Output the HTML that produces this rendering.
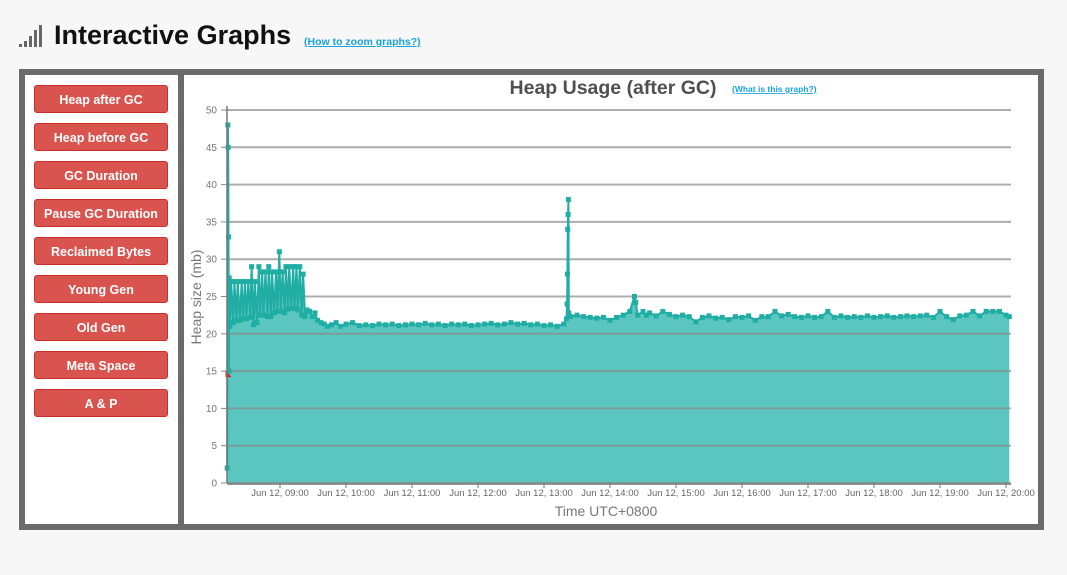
<!DOCTYPE html>
<html><head><meta charset="utf-8">
<style>
body{margin:0;width:1067px;height:575px;background:#f7f7f7;font-family:"Liberation Sans",sans-serif;position:relative;overflow:hidden}
#title{position:absolute;left:54px;top:20px;font-size:27px;font-weight:bold;color:#111;white-space:nowrap}
#zoomlink{position:absolute;left:304px;top:36px;font-size:10.5px;font-weight:bold;color:#1aa3d9;text-decoration:underline}
#frame{position:absolute;left:19px;top:69px;width:1025px;height:461px;background:#6b6b6b}
#left{position:absolute;left:25px;top:75px;width:153px;height:449px;background:#fff}
#chartp{position:absolute;left:184px;top:75px;width:854px;height:449px;background:#fff}
.btn{position:absolute;left:34px;width:134px;height:28px;background:#d9534f;border-radius:3px;color:#fff;font-weight:bold;font-size:12.5px;text-align:center;line-height:28px;border:1px solid #c9302c;box-sizing:border-box}
</style></head><body>
<svg width="28" height="30" style="position:absolute;left:19px;top:22px">
<rect x="0" y="22" width="3" height="3" fill="#666"/><rect x="5" y="19" width="3" height="6" fill="#666"/><rect x="10" y="14" width="3" height="11" fill="#666"/><rect x="15" y="8" width="3" height="17" fill="#666"/><rect x="20" y="3" width="3" height="22" fill="#666"/></svg>
<div id="title">Interactive Graphs</div>
<a id="zoomlink">(How to zoom graphs?)</a>
<div id="frame"></div>
<div id="left"></div>
<div class="btn" style="top:85px">Heap after GC</div>
<div class="btn" style="top:123px">Heap before GC</div>
<div class="btn" style="top:161px">GC Duration</div>
<div class="btn" style="top:199px">Pause GC Duration</div>
<div class="btn" style="top:237px">Reclaimed Bytes</div>
<div class="btn" style="top:275px">Young Gen</div>
<div class="btn" style="top:313px">Old Gen</div>
<div class="btn" style="top:351px">Meta Space</div>
<div class="btn" style="top:389px">A &amp; P</div>
<div id="chartp"></div>
<svg id="chart" width="1067" height="575" style="position:absolute;left:0;top:0"></svg>
<script>
const yTicks=[0,5,10,15,20,25,30,35,40,45,50];
const xTickHours=[9,10,11,12,13,14,15,16,17,18,19,20];
const xTickLabels=["Jun 12, 09:00","Jun 12, 10:00","Jun 12, 11:00","Jun 12, 12:00","Jun 12, 13:00","Jun 12, 14:00","Jun 12, 15:00","Jun 12, 16:00","Jun 12, 17:00","Jun 12, 18:00","Jun 12, 19:00","Jun 12, 20:00"];
const times=[
8.20,8.21,8.215,8.22,8.225,8.23,8.24,
8.26,8.29,8.31,8.34,8.36,8.39,8.42,8.44,8.47,8.49,8.52,8.55,8.57,8.60,8.62,8.65,8.68,8.70,8.73,8.75,8.78,8.81,
8.83,8.86,8.88,8.91,8.94,8.96,8.99,9.01,9.04,9.07,9.09,9.12,9.14,9.17,9.20,9.22,9.25,9.27,9.30,9.33,9.35,9.38,
9.41,9.45,9.49,9.53,9.57,9.62,9.67,9.72,9.78,9.85,9.92,
10.0,10.1,10.2,10.3,10.4,10.5,10.6,10.7,10.8,10.9,
11.0,11.1,11.2,11.3,11.4,11.5,11.6,11.7,11.8,11.9,
12.0,12.1,12.2,12.3,12.4,12.5,12.6,12.7,12.8,12.9,
13.0,13.1,13.2,13.3,13.34,13.35,13.355,13.36,13.365,13.37,13.375,13.4,13.5,13.6,13.7,13.8,13.9,
14.0,14.1,14.2,14.3,14.37,14.39,14.42,14.5,14.55,14.6,14.7,14.8,14.9,
15.0,15.1,15.2,15.3,15.4,15.5,15.6,15.7,15.8,15.9,
16.0,16.1,16.2,16.3,16.4,16.5,16.6,16.7,16.8,16.9,
17.0,17.1,17.2,17.3,17.4,17.5,17.6,17.7,17.8,17.9,
18.0,18.1,18.2,18.3,18.4,18.5,18.6,18.7,18.8,18.9,
19.0,19.1,19.2,19.3,19.4,19.5,19.6,19.7,19.8,19.9,
20.0,20.05];
const heapMb=[
2,48,45,33,15,27.5,21,
27,21.5,27,21.8,27,21.8,27,22,27,22,27,22.2,29,21.2,27,21.5,29,22.5,28.3,22.5,28.3,22.3,
29,22.3,28.3,22.8,28.3,23,31,23,28.3,22.8,29,23.3,29,23.4,29,23.4,29,23.2,29,22.5,28,22.3,
23.2,23,22.3,22.8,21.8,21.5,21.3,21,21.2,21.5,21,
21.3,21.5,21.1,21.2,21.1,21.3,21.2,21.3,21.1,21.2,
21.3,21.2,21.4,21.2,21.3,21.1,21.3,21.2,21.3,21.1,
21.2,21.3,21.4,21.2,21.3,21.5,21.3,21.4,21.2,21.3,
21.1,21.2,21,21.3,22,24,28,34,36,38,22.8,22.3,22.5,22.3,22.2,22.1,22.2,
21.8,22.2,22.5,23,25,24.2,22.5,23,22.5,22.8,22.4,23,22.6,
22.3,22.5,22.3,21.6,22.2,22.4,22.1,22.2,21.9,22.3,
22.2,22.4,21.8,22.3,22.3,23,22.4,22.6,22.3,22.2,
22.4,22.2,22.3,23,22.2,22.4,22.2,22.3,22.2,22.4,
22.2,22.3,22.4,22.2,22.3,22.4,22.3,22.4,22.5,22.2,
23,22.3,21.9,22.4,22.5,23,22.4,23,23,23,
22.5,22.3];
const warnPoint=[8.205,14.6];
const NS="http://www.w3.org/2000/svg";
const svg=document.getElementById('chart');
const X0=227,X1=1011,Y0=483,Y1=110;
const xs=h=>280+(h-9)*66;
const ys=v=>Y0-(v/50)*(Y0-Y1);
function mk(tag,attrs,parent){const e=document.createElementNS(NS,tag);for(const k in attrs)e.setAttribute(k,attrs[k]);(parent||svg).appendChild(e);return e;}
let d=`M${xs(times[0])},${Y0}`;
times.forEach((t,i)=>{d+=` L${xs(t)},${ys(heapMb[i])}`});
d+=` L${xs(times[times.length-1])},${Y0} Z`;
const area=mk('path',{d:d,fill:'#5bc6bf'});


yTicks.forEach(v=>{
 const g=mk('line',{x1:X0,x2:X1,y1:ys(v),y2:ys(v),stroke:'#8a8a8a','stroke-width':2,'stroke-opacity':0.7});
 
 
 const t=mk('text',{x:217,y:ys(v)+3.5,'text-anchor':'end','font-size':10,fill:'#777','font-family':'Liberation Sans, sans-serif'});
 t.textContent=v;
 
 
 mk('line',{x1:221,x2:227,y1:ys(v),y2:ys(v),stroke:'#888','stroke-width':1});
});
let ld='';
times.forEach((t,i)=>{ld+=(i?' L':'M')+xs(t)+','+ys(heapMb[i])});
const line=mk('path',{d:ld,fill:'none',stroke:'#1fada4','stroke-width':2});


times.forEach((t,i)=>{
 const m=mk('rect',{x:xs(t)-2.5,y:ys(heapMb[i])-2.5,width:5,height:5,fill:'#1fada4'});
 
 
});
const wp=mk('path',{d:`M${xs(warnPoint[0])-2},${ys(warnPoint[1])-4} L${xs(warnPoint[0])+4},${ys(warnPoint[1])+3} L${xs(warnPoint[0])-2},${ys(warnPoint[1])+3} Z`,fill:'#e0201a'});


mk('line',{x1:X0,x2:X0,y1:Y1-4,y2:Y0,stroke:'#777','stroke-width':1.5});
mk('line',{x1:X0,x2:X1,y1:Y0+1,y2:Y0+1,stroke:'#777','stroke-width':1.5});
xTickHours.forEach((h,i)=>{
 mk('line',{x1:xs(h),x2:xs(h),y1:Y0,y2:Y0+5,stroke:'#777','stroke-width':1});
 const t=mk('text',{x:xs(h),y:496,'text-anchor':'middle','font-size':9.5,fill:'#666','font-family':'Liberation Sans, sans-serif'});
 t.textContent=xTickLabels[i];
 
 
});
const tt=mk('text',{x:613,y:94,'text-anchor':'middle','font-size':19.5,'font-weight':'bold',fill:'#505050','font-family':'Liberation Sans, sans-serif'});
tt.textContent='Heap Usage (after GC)';


const wl=mk('text',{x:732,y:92,'font-size':8.5,'font-weight':'bold',fill:'#1aa3d9','text-decoration':'underline','font-family':'Liberation Sans, sans-serif'});
wl.textContent='(What is this graph?)';


const xt=mk('text',{x:606,y:516,'text-anchor':'middle','font-size':14,fill:'#777','font-family':'Liberation Sans, sans-serif'});
xt.textContent='Time UTC+0800';


const yt=mk('text',{x:0,y:0,'text-anchor':'middle','font-size':14,fill:'#777','font-family':'Liberation Sans, sans-serif',transform:'translate(201,297) rotate(-90)'});
yt.textContent='Heap size (mb)';


</script>
</body></html>
